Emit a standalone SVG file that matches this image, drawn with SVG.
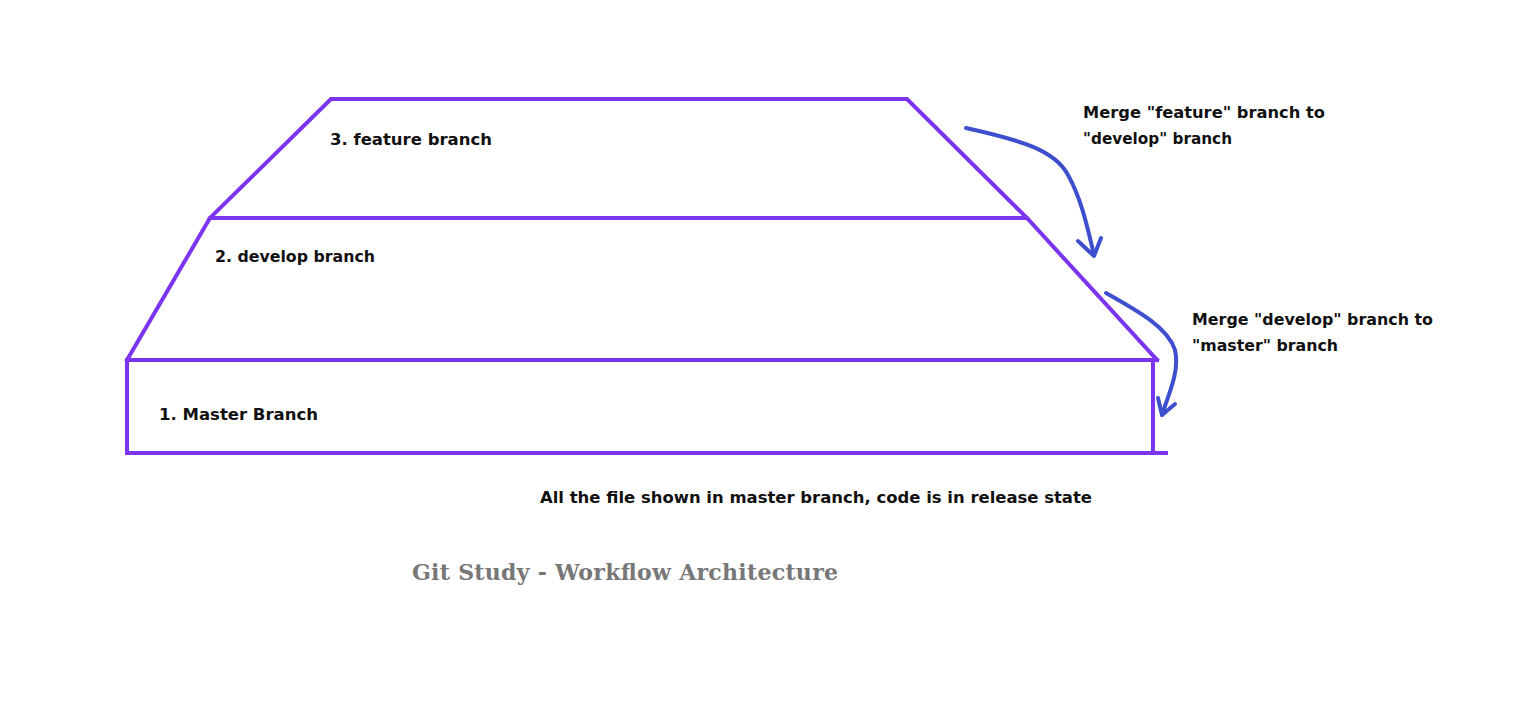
<svg xmlns="http://www.w3.org/2000/svg" width="1525" height="704" viewBox="0 0 1525 704">
<style>
.edge{fill:none;stroke:#7B35F0;stroke-width:4;stroke-linecap:square;stroke-linejoin:miter}
.arr{fill:none;stroke:#3D4FCF;stroke-width:4;stroke-linecap:round;stroke-linejoin:round}
.lbl{font-family:"Comic Sans MS","DejaVu Sans",sans-serif;font-weight:bold;font-size:16.5px;fill:#111}
.title{font-family:"DejaVu Serif","Liberation Serif",serif;font-weight:bold;font-size:22px;fill:#777}
</style>
<rect width="1525" height="704" fill="#fff"/>
<g id="feature">
<path class="edge" d="M210,218 L331,99 L907,99 L1027,218"/>
<text class="lbl" x="330" y="145" textLength="162" lengthAdjust="spacingAndGlyphs">3. feature branch</text>
</g>
<g id="develop">
<path class="edge" d="M127,360 L210,218 L1027,218 L1157,360"/>
<text class="lbl" x="215" y="262" textLength="160" lengthAdjust="spacingAndGlyphs">2. develop branch</text>
</g>
<g id="master">
<path class="edge" d="M127,360 L1157,360 M127,360 L127,453 L1166,453 M1153,362 L1153,451"/>
<text class="lbl" x="159" y="420" textLength="159" lengthAdjust="spacingAndGlyphs">1. Master Branch</text>
</g>
<g id="connectors">
<path class="arr" d="M966,128 C1020,140 1055,150 1068,175 C1082,200 1088,230 1094,255"/>
<path class="arr" d="M1078,241 L1094,256 L1101,238"/>
<path class="arr" d="M1106,293 C1140,312 1168,328 1175,350 C1180,372 1168,395 1162,415"/>
<path class="arr" d="M1158,398 L1162,415 L1175,404"/>
</g>
<g id="notes">
<text class="lbl" x="1083" y="118" textLength="242" lengthAdjust="spacingAndGlyphs">Merge "feature" branch to</text>
<text class="lbl" x="1083" y="144" textLength="149" lengthAdjust="spacingAndGlyphs">"develop" branch</text>
<text class="lbl" x="1192" y="325" textLength="241" lengthAdjust="spacingAndGlyphs">Merge "develop" branch to</text>
<text class="lbl" x="1192" y="351" textLength="146" lengthAdjust="spacingAndGlyphs">"master" branch</text>
<text class="lbl" x="540" y="503" textLength="552" lengthAdjust="spacingAndGlyphs">All the file shown in master branch, code is in release state</text>
<text class="title" x="412" y="580" textLength="426" lengthAdjust="spacing">Git Study - Workflow Architecture</text>
</g>
</svg>
